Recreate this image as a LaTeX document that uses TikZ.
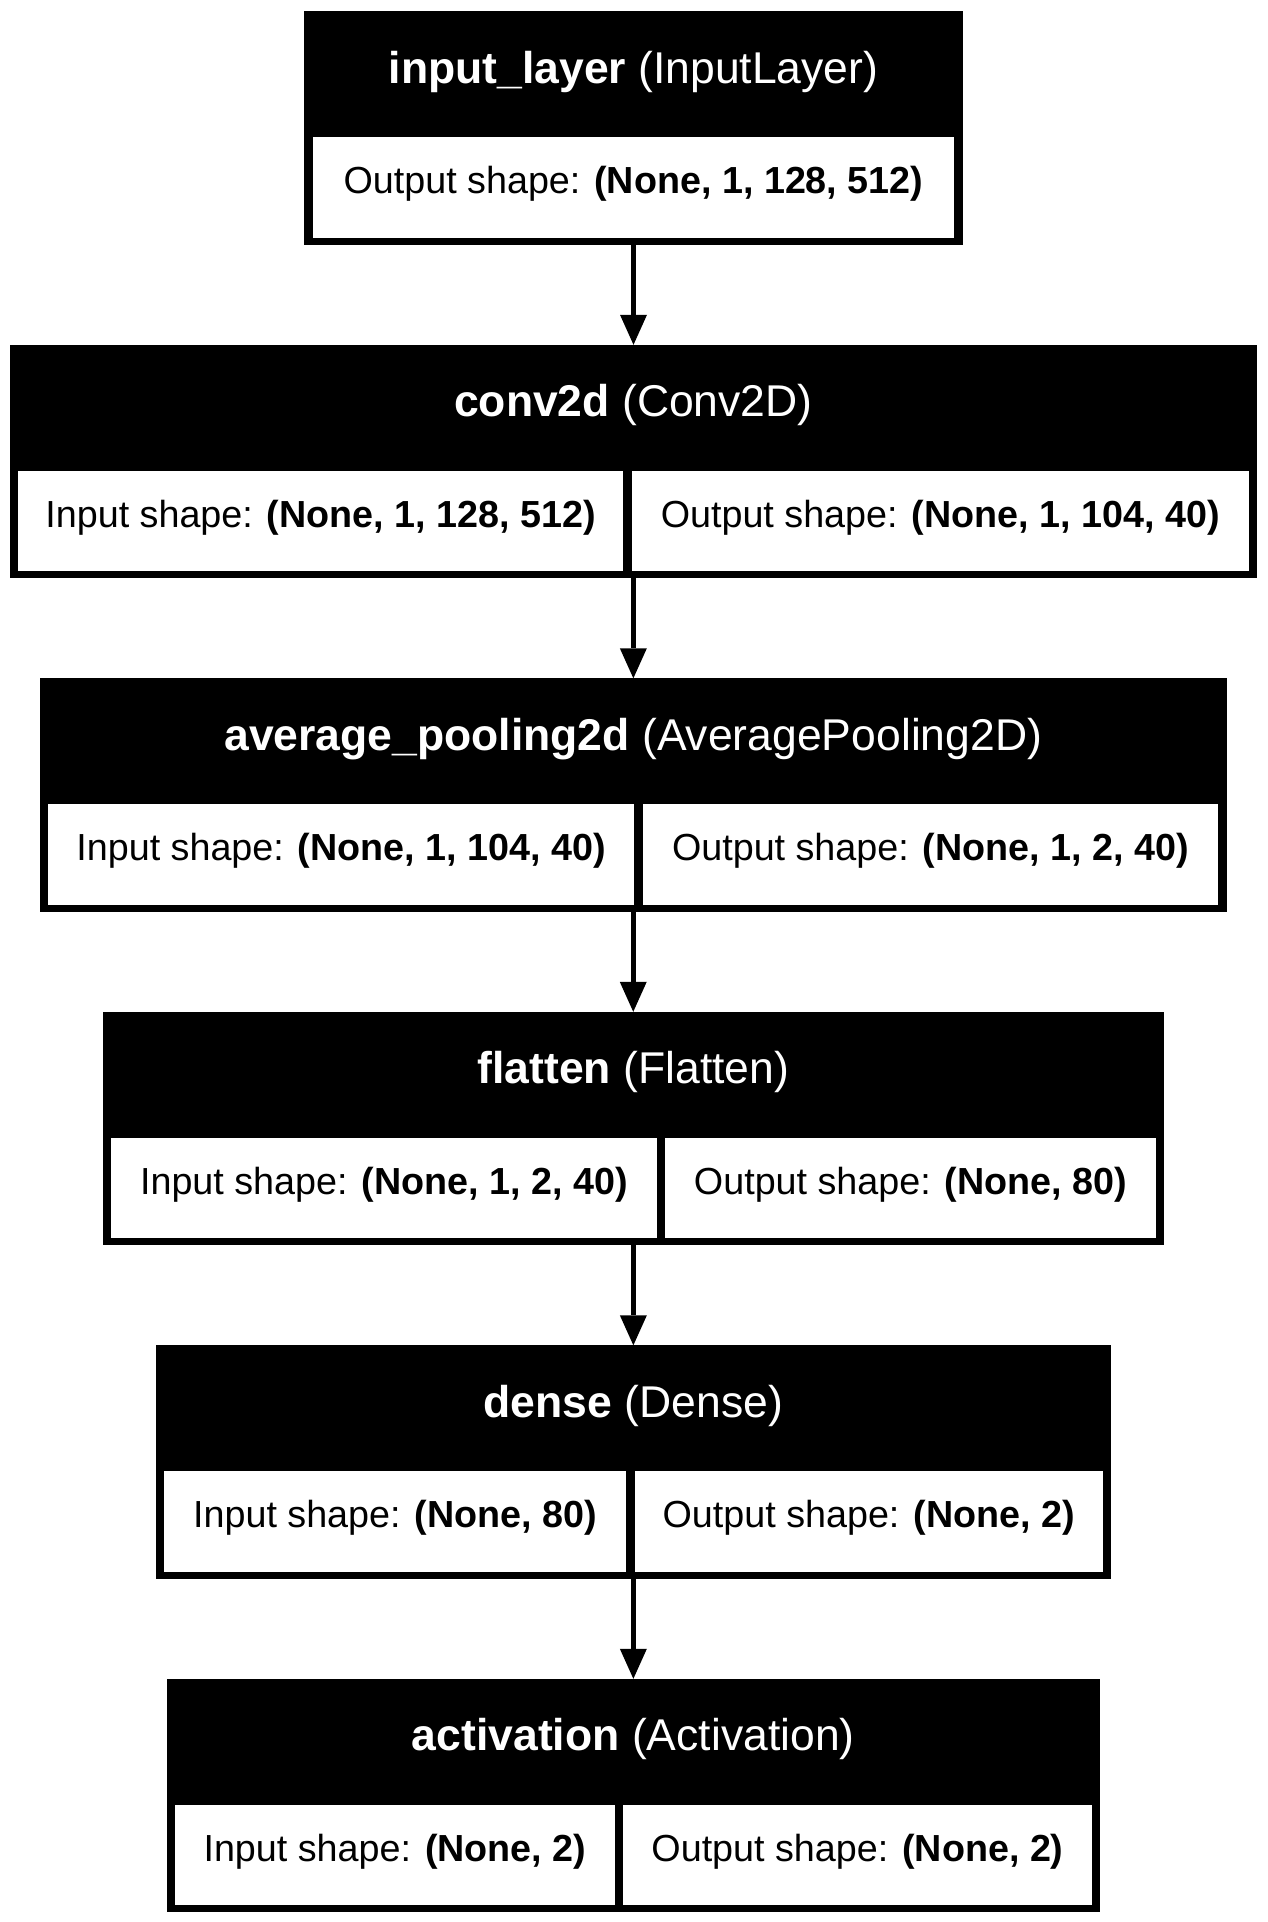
\documentclass[tikz,border=0pt]{standalone}
\usepackage{fontspec}
\setmainfont{Liberation Sans}
\usetikzlibrary{arrows.meta}
\newcommand\hdfnt{\fontsize{44.5}{50}\selectfont}
\newcommand\clfnt{\fontsize{37.7}{44}\selectfont}
\begin{document}
\begin{tikzpicture}[x=1pt,y=-1pt,
  frame/.style={fill=black, draw=none, inner sep=0pt, outer sep=0pt, anchor=north west, minimum height=233.5pt},
  cell/.style={fill=white, draw=none, inner sep=0pt, outer sep=0pt, anchor=north west, minimum height=100.7pt},
  head/.style={text=white, font=\hdfnt, anchor=base, inner sep=0pt},
  lab/.style={text=black, font=\clfnt, anchor=base, inner sep=0pt},
  arr/.style={line width=5.5pt, -{Triangle[width=27pt,length=30pt,line width=0pt]}}]
\fill[white] (0,0) rectangle (1267,1922);
\useasboundingbox (0,0) rectangle (1267,1922);

% box 1
\node[frame, minimum width=658.4pt] (b1) at (304.3,11.3) {};
\node[cell, minimum width=641.8pt] (c1) at (312.6,137.1) {};
\node[head] (h1) at (633.5,83.3) {\textbf{input\_layer} (InputLayer)};
\node[lab] (t1) at (633.5,193.8) {Output shape: \textbf{(None, 1, 128, 512)}};

% box 2
\node[frame, minimum width=1247.3pt] (b2) at (9.7,344.8) {};
\node[cell, minimum width=605.3pt] (c2a) at (18,470.6) {};
\node[cell, minimum width=617pt] (c2b) at (631.7,470.6) {};
\node[head] (h2) at (633.35,416.8) {\textbf{conv2d} (Conv2D)};
\node[lab] (t2a) at (320.65,527.3) {Input shape: \textbf{(None, 1, 128, 512)}};
\node[lab] (t2b) at (940.2,527.3) {Output shape: \textbf{(None, 1, 104, 40)}};

% box 3
\node[frame, minimum width=1186.5pt] (b3) at (40,678.3) {};
\node[cell, minimum width=585.7pt] (c3a) at (48.3,804.1) {};
\node[cell, minimum width=575.5pt] (c3b) at (642.7,804.1) {};
\node[head] (h3) at (633.25,750.3) {\textbf{average\_pooling2d} (AveragePooling2D)};
\node[lab] (t3a) at (341.15,860.8) {Input shape: \textbf{(None, 1, 104, 40)}};
\node[lab] (t3b) at (930.45,860.8) {Output shape: \textbf{(None, 1, 2, 40)}};

% box 4
\node[frame, minimum width=1061.3pt] (b4) at (102.7,1011.8) {};
\node[cell, minimum width=545.7pt] (c4a) at (111,1137.6) {};
\node[cell, minimum width=490.4pt] (c4b) at (665.3,1137.6) {};
\node[head] (h4) at (633.35,1083.8) {\textbf{flatten} (Flatten)};
\node[lab] (t4a) at (383.85,1194.3) {Input shape: \textbf{(None, 1, 2, 40)}};
\node[lab] (t4b) at (910.5,1194.3) {Output shape: \textbf{(None, 80)}};

% box 5
\node[frame, minimum width=955.3pt] (b5) at (155.7,1345.3) {};
\node[cell, minimum width=462pt] (c5a) at (164,1471.1) {};
\node[cell, minimum width=468pt] (c5b) at (634.7,1471.1) {};
\node[head] (h5) at (633.35,1417.3) {\textbf{dense} (Dense)};
\node[lab] (t5a) at (395,1527.8) {Input shape: \textbf{(None, 80)}};
\node[lab] (t5b) at (868.7,1527.8) {Output shape: \textbf{(None, 2)}};

% box 6
\node[frame, minimum width=933.5pt] (b6) at (166.5,1678.8) {};
\node[cell, minimum width=440.2pt] (c6a) at (174.8,1804.6) {};
\node[cell, minimum width=468.4pt] (c6b) at (623.3,1804.6) {};
\node[head] (h6) at (633.25,1750.8) {\textbf{activation} (Activation)};
\node[lab] (t6a) at (394.9,1861.3) {Input shape: \textbf{(None, 2)}};
\node[lab] (t6b) at (857.5,1861.3) {Output shape: \textbf{(None, 2)}};

% arrows
\draw[arr] (b1.south) -- (b1.south |- b2.north);
\draw[arr] (b2.south) -- (b2.south |- b3.north);
\draw[arr] (b3.south) -- (b3.south |- b4.north);
\draw[arr] (b4.south) -- (b4.south |- b5.north);
\draw[arr] (b5.south) -- (b5.south |- b6.north);
\end{tikzpicture}
\end{document}
